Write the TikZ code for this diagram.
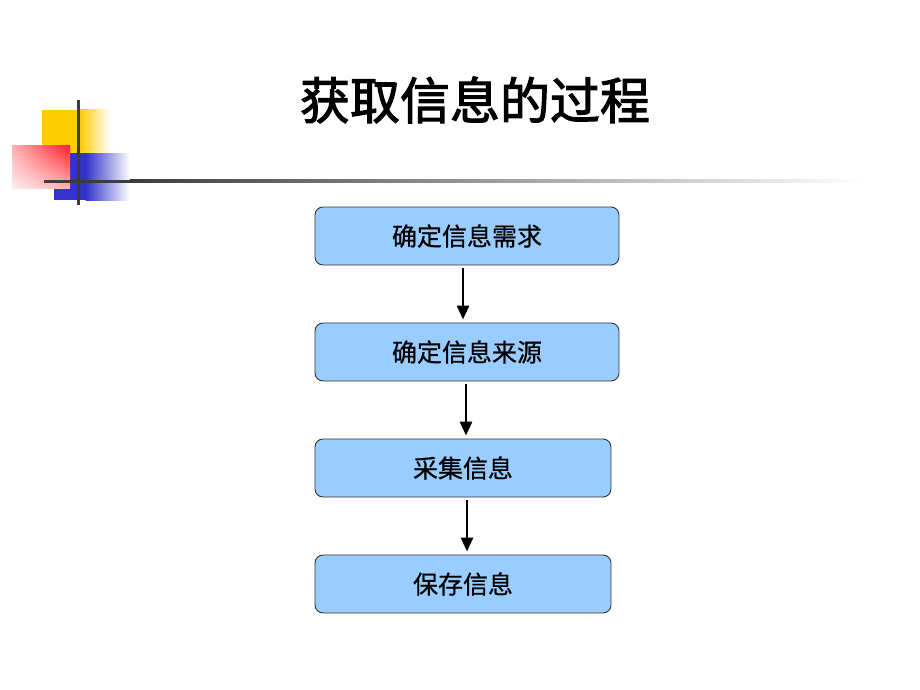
\documentclass[tikz,border=0pt]{standalone}
\usepackage{fontspec}
\newfontfamily\cjk[FakeBold=0.6]{Noto Sans CJK SC}
\newfontfamily\cjktitle[FakeBold=2.2]{Noto Sans CJK SC}
\usetikzlibrary{arrows.meta,shadings}
\definecolor{boxblue}{RGB}{153,204,255}
\definecolor{decoyellow}{RGB}{255,204,0}
\definecolor{decoblue}{RGB}{51,51,204}
\definecolor{decored}{RGB}{255,30,40}
\definecolor{linegray}{RGB}{60,60,60}
\tikzset{
  stepbox/.style={draw=black!80, line width=0.9pt, fill=boxblue, rounded corners=8pt,
    minimum height=58pt, inner sep=0pt, font=\cjk\fontsize{25}{29}\selectfont},
  arr/.style={line width=2.8pt, -{Triangle[length=14pt,width=12pt]}, shorten <=3pt, shorten >=3pt}
}
\begin{document}
\begin{tikzpicture}[x=1pt,y=-1pt]
\useasboundingbox (0,0) rectangle (920,690);
% decoration
\fill[decoyellow] (42,110) rectangle (80,153);
\shade[left color=decoyellow, right color=white] (79.5,110) rectangle (110,153);
\fill[decoblue] (54,153) rectangle (86,200);
\shade[left color=decoblue, right color=white] (85.5,153) rectangle (130,200);
\shade[upper right=decored, upper left=decored!35, lower right=decored!35, lower left=decored!8] (12,145) rectangle (70,188);
\draw[linegray, line width=3pt] (78,100) -- (78,205);
\fill[linegray] (44,179.5) rectangle (130,182.5);
\shade[left color=linegray, right color=white] (129.5,179.5) rectangle (865,182.5);
% title
\node[font=\cjktitle\fontsize{50}{58}\selectfont] (title) at (475,100) {获取信息的过程};
% boxes
\node[stepbox, minimum width=304pt] (b1) at (467,236) {\raisebox{-3pt}{确定信息需求}};
\node[stepbox, minimum width=304pt] (b2) at (467,352) {\raisebox{-3pt}{确定信息来源}};
\node[stepbox, minimum width=296pt] (b3) at (463,468) {\raisebox{-3pt}{采集信息}};
\node[stepbox, minimum width=296pt] (b4) at (463,584) {\raisebox{-3pt}{保存信息}};
% arrows
\draw[arr] ([xshift=-4pt]b1.south) -- ([xshift=-4pt]b2.north);
\draw[arr] ([xshift=-1pt]b2.south) -- ([xshift=3pt]b3.north);
\draw[arr] ([xshift=4pt]b3.south) -- ([xshift=4pt]b4.north);
\end{tikzpicture}
\end{document}
